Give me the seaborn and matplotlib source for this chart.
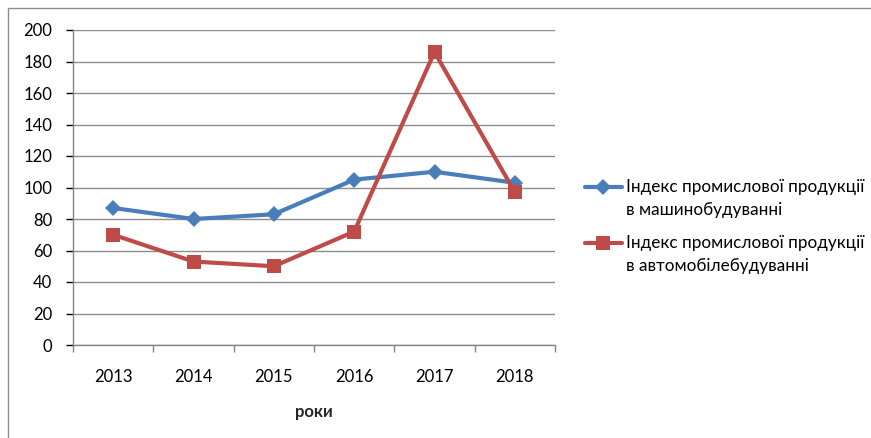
import matplotlib
matplotlib.use("Agg")
import matplotlib.pyplot as plt
import seaborn as sns
import pandas as pd
from matplotlib.patches import Rectangle
from matplotlib.lines import Line2D

years = ["2013", "2014", "2015", "2016", "2017", "2018"]
machine = [87, 80, 83, 105, 110, 103]
auto = [70, 53, 50, 72, 186, 97]
label_machine = "Індекс промислової продукції\nв машинобудуванні"
label_auto = "Індекс промислової продукції\nв автомобілебудуванні"
xlabel = "роки"

sns.set_theme(style="white")
plt.rcParams["font.family"] = ["Lato", "DejaVu Sans"]

df = pd.DataFrame({
    "x": list(range(len(years))) * 2,
    "value": machine + auto,
    "series": [label_machine] * len(years) + [label_auto] * len(years),
})

W, H = 871, 438
fig = plt.figure(figsize=(W / 100, H / 100), dpi=100)
ax = fig.add_axes([73/W, 1-345/H, (555-73)/W, (345-30)/H])

blue = "#4A7EBB"
red = "#BE4B48"
sns.lineplot(data=df, x="x", y="value", hue="series", style="series",
             palette={label_machine: blue, label_auto: red},
             markers={label_machine: "D", label_auto: "s"},
             dashes=False, linewidth=3, ax=ax, legend=False)
for line, ms in zip(ax.lines, [8, 9.5]):
    line.set_markersize(ms)
    line.set_markeredgewidth(0)

ax.set_xlim(-0.5, len(years) - 0.5)
ax.set_ylim(0, 200)
ax.set_yticks(range(0, 201, 20))
ax.set_yticklabels([str(v) for v in range(0, 201, 20)], fontsize=12)
ax.set_xticks(range(len(years)))
ax.set_xticklabels(years, fontsize=12)
ax.set_xticks([i - 0.5 for i in range(len(years) + 1)], minor=True)
ax.tick_params(axis="x", which="major", length=0, pad=17, colors="black")
ax.tick_params(axis="x", which="minor", length=5, width=1, color="#868686", bottom=True)
ax.tick_params(axis="y", which="major", length=5, width=1, color="#868686", left=True, pad=10, colors="black")
ax.tick_params(axis="y", colors="black")
ax.yaxis.grid(True, color="#8C8C8C", linewidth=1)
ax.set_axisbelow(True)
for s in ["top", "right"]:
    ax.spines[s].set_visible(False)
for s in ["left", "bottom"]:
    ax.spines[s].set_color("#868686")
    ax.spines[s].set_linewidth(1)
ax.set_xlabel(xlabel, fontsize=12, fontweight="bold", labelpad=14)
ax.set_ylabel("")

# manual legend (handle aligned with first line of each label, as in the reference)
entries = [(label_machine, blue, "D", 8, 187), (label_auto, red, "s", 9.5, 243)]
for text, color, mk, ms, yc in entries:
    fig.add_artist(Line2D([585/W, 622/W], [1-yc/H, 1-yc/H], transform=fig.transFigure,
                          color=color, lw=3))
    fig.add_artist(Line2D([603/W], [1-yc/H], transform=fig.transFigure,
                          color=color, marker=mk, markersize=ms, markeredgewidth=0, lw=0))
    l1, l2 = text.split("\n")
    fig.text(626/W, 1-yc/H, l1, fontsize=12.3, va="center", ha="left", color="black")
    fig.text(626/W, 1-(yc+23)/H, l2, fontsize=12.3, va="center", ha="left", color="black")

fig.patches.append(Rectangle((8/W, -0.1), 1.2, 1 - 8/H + 0.1, transform=fig.transFigure,
                             fill=False, edgecolor="#8C8C8C", linewidth=1))

fig.savefig("out.png", dpi=100)
